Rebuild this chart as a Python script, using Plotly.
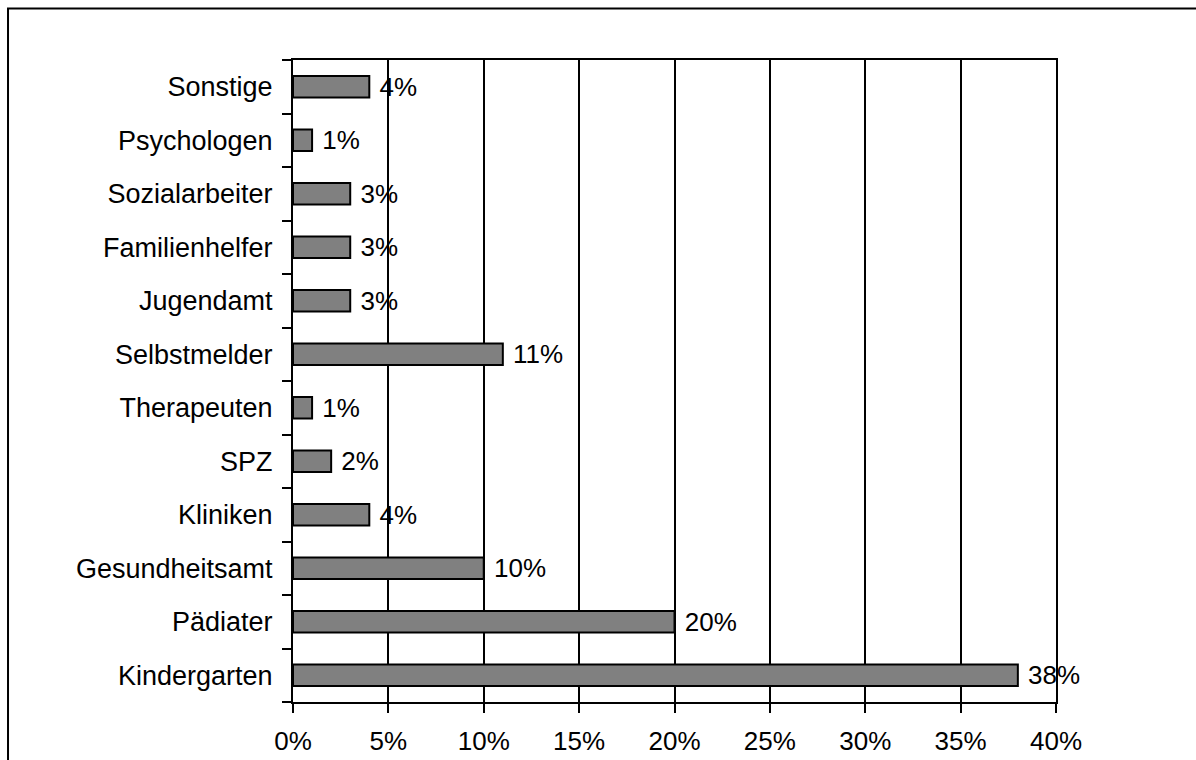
import plotly.graph_objects as go

# Referral sources (bottom to top) and their share in percent
categories = ["Kindergarten", "Pädiater", "Gesundheitsamt", "Kliniken", "SPZ",
              "Therapeuten", "Selbstmelder", "Jugendamt", "Familienhelfer",
              "Sozialarbeiter", "Psychologen", "Sonstige"]
shares = [38, 20, 10, 4, 2, 1, 11, 3, 3, 3, 1, 4]
bar_labels = [f"{v}%" for v in shares]
x_ticks = [0, 5, 10, 15, 20, 25, 30, 35, 40]
x_tick_text = [f"{t}%" for t in x_ticks]

FONT = "Liberation Sans, Arial, sans-serif"

fig = go.Figure(go.Bar(
    x=shares, y=categories, orientation="h",
    width=0.4,
    marker=dict(color="#808080", line=dict(color="black", width=2)),
    text=bar_labels, texttemplate=" %{text}",
    textposition="outside", constraintext="none",
    textfont=dict(family=FONT, size=26, color="black"),
    cliponaxis=False,
))

fig.update_layout(
    width=1196, height=760,
    margin=dict(l=293, r=140, t=60, b=58),
    paper_bgcolor="white", plot_bgcolor="white",
    showlegend=False,
    font=dict(family=FONT, size=26, color="black"),
    xaxis=dict(
        range=[0, 40], tickvals=x_ticks, ticktext=x_tick_text,
        showgrid=True, gridcolor="black", gridwidth=2,
        showline=True, linecolor="black", linewidth=2, mirror=True,
        ticks="outside", ticklen=9, tickwidth=2, tickcolor="black",
        ticklabelstandoff=6, automargin=False,
        zeroline=False, fixedrange=True,
    ),
    yaxis=dict(
        range=[-0.5, 11.5], categoryorder="array", categoryarray=categories,
        showgrid=False,
        showline=True, linecolor="black", linewidth=2, mirror=True,
        ticks="outside", ticklen=9, tickwidth=2, tickcolor="black",
        tickfont=dict(family=FONT, size=27, color="black"),
        tickson="boundaries", ticklabelstandoff=13, automargin=False,
        fixedrange=True,
    ),
    shapes=[dict(
        type="rect", xref="paper", yref="paper",
        x0=-0.3735, x1=1.3, y0=-0.2, y1=1.0802,
        line=dict(color="black", width=2), fillcolor="rgba(0,0,0,0)",
        layer="below",
    )],
)

fig.write_html("out.html")
